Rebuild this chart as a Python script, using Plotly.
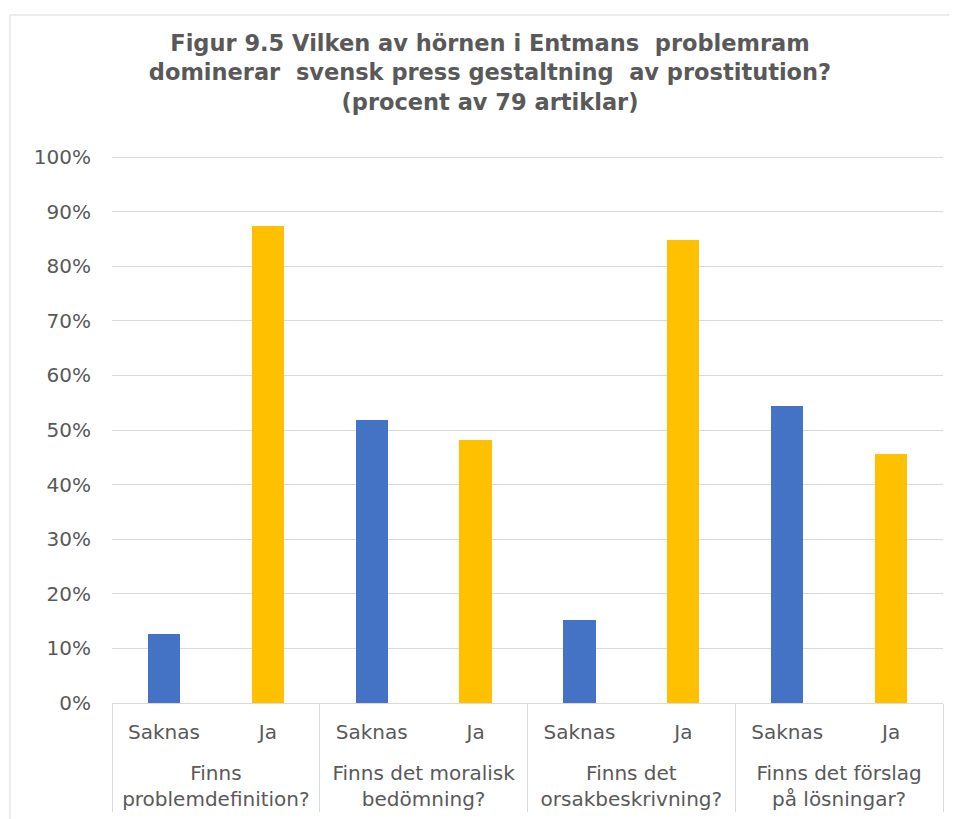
import plotly.graph_objects as go

groups = [
    "Finns<br>problemdefinition?",
    "Finns det moralisk<br>bedömning?",
    "Finns det<br>orsakbeskrivning?",
    "Finns det förslag<br>på lösningar?",
]
answers = ["Saknas", "Ja"]
# share of 79 articles per group: [Saknas, Ja]
values = [
    [0.127, 0.873],
    [0.519, 0.481],
    [0.152, 0.848],
    [0.544, 0.456],
]
answer_colors = {"Saknas": "#4472C4", "Ja": "#FFC000"}

title_text = ("Figur 9.5 Vilken av hörnen i Entmans  problemram<br>"
              "dominerar  svensk press gestaltning  av prostitution?<br>"
              "(procent av 79 artiklar)")

x_group, x_ans, y_vals, colors = [], [], [], []
for g, vals in zip(groups, values):
    for a, v in zip(answers, vals):
        # leading empty line leaves room between the two label rows
        x_group.append("<br>" + g)
        x_ans.append(a)
        y_vals.append(v)
        colors.append(answer_colors[a])

TXT = "#595959"
GRID = "#D9D9D9"
FONT = "DejaVu Sans"

# page offset (body margin) is 8px; plot area target: x 112..943, y 156..703
L, T = 104, 148
PW, PH = 831, 547
W, H = 957, 819

fig = go.Figure(
    go.Bar(
        x=[x_group, x_ans],
        y=y_vals,
        marker=dict(color=colors, line=dict(width=0)),
        width=0.31,
        hoverinfo="y",
    )
)

fig.update_layout(
    width=W,
    height=H,
    margin=dict(l=L, r=W - L - PW, t=T, b=H - T - PH),
    paper_bgcolor="white",
    plot_bgcolor="white",
    showlegend=False,
    font=dict(family=FONT, color=TXT, size=20),
    title=dict(
        text="<b>" + title_text + "</b>",
        x=(490 - 8) / W,
        xref="container",
        xanchor="center",
        y=1 - 43 / H,
        yref="container",
        yanchor="middle",
        font=dict(family=FONT, size=22.5, color=TXT),
    ),
    bargap=0.0,
)

fig.update_yaxes(
    range=[0, 1.002],
    dtick=0.1,
    tickformat=".0%",
    showgrid=True,
    gridcolor=GRID,
    gridwidth=1,
    zeroline=False,
    showline=False,
    ticks="",
    ticklabelstandoff=20,
    tickfont=dict(family=FONT, size=20, color=TXT),
)

fig.update_xaxes(
    type="multicategory",
    showline=True,
    linecolor=GRID,
    linewidth=1,
    showdividers=True,
    dividercolor=GRID,
    dividerwidth=1,
    ticks="",
    ticklabelstandoff=11,
    tickfont=dict(family=FONT, size=20, color=TXT),
    showgrid=False,
)

# chart area border (Excel-like frame)
fig.add_shape(
    type="rect",
    xref="paper", yref="paper",
    x0=(10 - 112) / PW, x1=1.2,
    y0=-0.4, y1=(703 - 15) / PH,
    line=dict(color=GRID, width=1),
    fillcolor="rgba(0,0,0,0)",
    layer="below",
)

fig.write_html("out.html")
